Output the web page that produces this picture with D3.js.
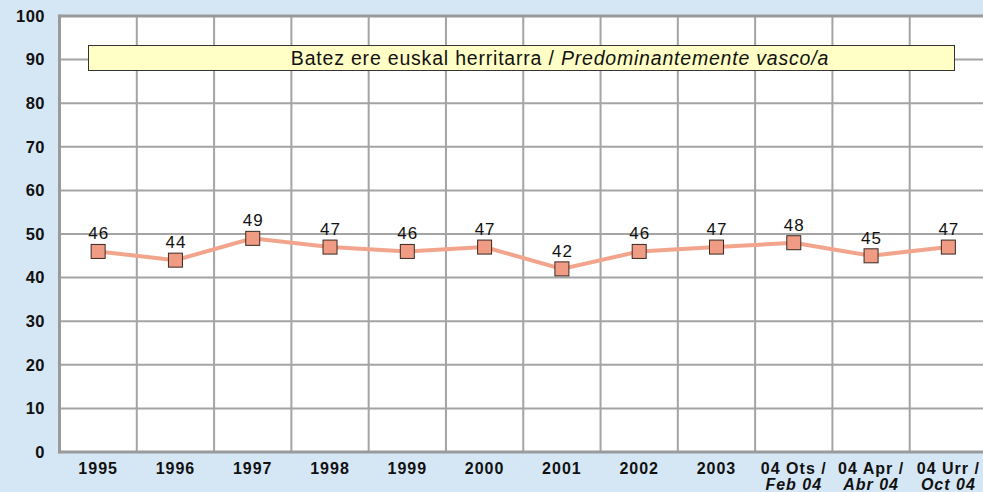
<!DOCTYPE html>
<meta charset="utf-8">
<style>
body { margin: 0; background: #d5e7f5; overflow: hidden; }
svg { display: block; font-family: "Liberation Sans", Arial, sans-serif; }
.grid line { stroke: #a4a4a4; stroke-width: 2px; }
.frame { stroke: #9a9a9a; stroke-width: 3px; }
.valueline { fill: none; stroke: #f2a48c; stroke-width: 4px; }
.ytick { font-size: 16.5px; font-weight: bold; fill: #111; letter-spacing: 0.5px; }
.xtick { font-size: 16px; font-weight: bold; fill: #111; letter-spacing: 1px; }
.lbl { font-size: 17px; fill: #111; letter-spacing: 1px; }
</style>
<body>
<script src="https://cdn.jsdelivr.net/npm/d3@7"></script>
<script>

// data
var categories = ["1995", "1996", "1997", "1998", "1999", "2000", "2001", "2002", "2003", "04 Ots /", "04 Apr /", "04 Urr /"];
var subLabels  = ["", "", "", "", "", "", "", "", "", "Feb 04", "Abr 04", "Oct 04"];
var values     = [46, 44, 49, 47, 46, 47, 42, 46, 47, 48, 45, 47];
var yTicks     = [0, 10, 20, 30, 40, 50, 60, 70, 80, 90, 100];
var seriesName = "Batez ere euskal herritarra / ";
var seriesNameEs = "Predominantemente vasco/a";

var width = 983, height = 492;

var x = d3.scaleBand().domain(categories).range([59.5, 987]);
var y = d3.scaleLinear().domain([0, 100]).range([452, 16]);

var svg = d3.select("body").append("svg")
    .attr("width", width)
    .attr("height", height);

// plot area
svg.append("rect")
    .attr("x", x.range()[0])
    .attr("y", y(100))
    .attr("width", x.range()[1] - x.range()[0] + 10)
    .attr("height", y(0) - y(100))
    .attr("fill", "#fff");

// grid lines
var grid = svg.append("g").attr("class", "grid");
grid.selectAll(".hg")
    .data(yTicks.filter(function(d) { return d > 0 && d < 100; }))
  .enter().append("line")
    .attr("x1", x.range()[0]).attr("x2", width)
    .attr("y1", function(d) { return y(d); })
    .attr("y2", function(d) { return y(d); });
grid.selectAll(".vg")
    .data(categories.slice(1))
  .enter().append("line")
    .attr("x1", function(d) { return x(d); })
    .attr("x2", function(d) { return x(d); })
    .attr("y1", y(100)).attr("y2", y(0));

// frame: left, top, bottom
svg.append("line").attr("class", "frame")
    .attr("x1", x.range()[0]).attr("x2", x.range()[0])
    .attr("y1", y(100) - 1.5).attr("y2", y(0) + 1.5);
svg.append("line").attr("class", "frame")
    .attr("x1", x.range()[0]).attr("x2", width)
    .attr("y1", y(100)).attr("y2", y(100));
svg.append("line").attr("class", "frame")
    .attr("x1", x.range()[0]).attr("x2", width)
    .attr("y1", y(0)).attr("y2", y(0));

// y tick labels
svg.selectAll(".ytick")
    .data(yTicks)
  .enter().append("text")
    .attr("class", "ytick")
    .attr("x", 45)
    .attr("y", function(d) { return y(d); })
    .attr("dy", "0.35em")
    .attr("text-anchor", "end")
    .text(function(d) { return d; });

// x tick labels
var cx = function(d) { return x(d) + x.bandwidth() / 2; };
svg.selectAll(".xtick")
    .data(categories)
  .enter().append("text")
    .attr("class", "xtick")
    .attr("x", cx)
    .attr("y", 474)
    .attr("text-anchor", "middle")
    .text(function(d) { return d; });
svg.selectAll(".xsub")
    .data(categories)
  .enter().append("text")
    .attr("class", "xtick")
    .attr("x", cx)
    .attr("y", 490)
    .attr("text-anchor", "middle")
    .style("font-style", "italic")
    .text(function(d, i) { return subLabels[i]; });

// series label box
svg.append("rect")
    .attr("x", 88.5).attr("y", 45.5)
    .attr("width", 866).attr("height", 25)
    .attr("fill", "#ffffc6")
    .attr("stroke", "#333")
    .attr("stroke-width", 1);
var t = svg.append("text")
    .attr("x", 560).attr("y", 65)
    .attr("text-anchor", "middle")
    .style("font-size", "19.5px")
    .style("letter-spacing", "0.8px")
    .attr("fill", "#111");
t.append("tspan").text(seriesName);
t.append("tspan").style("font-style", "italic").text(seriesNameEs);

// the line
var valueline = d3.line()
    .x(function(d, i) { return cx(categories[i]); })
    .y(function(d) { return y(d); });
svg.append("path")
    .datum(values)
    .attr("class", "valueline")
    .attr("d", valueline);

// markers
svg.selectAll(".mk")
    .data(values)
  .enter().append("rect")
    .attr("x", function(d, i) { return cx(categories[i]) - 7; })
    .attr("y", function(d) { return y(d) - 7; })
    .attr("width", 14).attr("height", 14)
    .attr("fill", "#f09c84")
    .attr("stroke", "#3a2a22")
    .attr("stroke-width", 1);

// value labels
svg.selectAll(".lbl")
    .data(values)
  .enter().append("text")
    .attr("class", "lbl")
    .attr("x", function(d, i) { return cx(categories[i]) + 0.5; })
    .attr("y", function(d) { return y(d) - 12; })
    .attr("text-anchor", "middle")
    .text(function(d) { return d; });

</script>
</body>
